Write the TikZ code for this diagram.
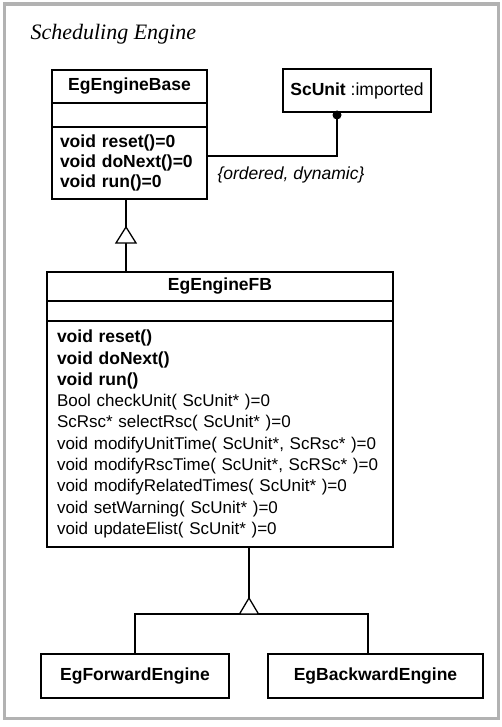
\documentclass[tikz,border=0pt]{standalone}
\usepackage{fontspec}
\setmainfont{Liberation Serif}
\setsansfont{Liberation Sans}
\usetikzlibrary{positioning}
\begin{document}
\begin{tikzpicture}[x=1pt,y=-1pt,
  lw/.style={line width=1.3pt},
  box/.style={draw,lw,rectangle,inner sep=0pt,outer sep=0pt,font=\sffamily\fontsize{17.5}{20}\selectfont},
  cname/.style={box,font=\sffamily\bfseries\fontsize{17.5}{20}\selectfont},
  ops/.style={box,align=left,inner xsep=10pt,anchor=north west},
  gentri/.style={draw,lw,fill=white},
  conn/.style={draw,lw}]
\useasboundingbox (0,0) rectangle (502,727);
\draw[gray!60,line width=3.5pt] (4.5,4) rectangle (498.5,718.5);
\node[anchor=base west,font=\rmfamily\itshape\fontsize{22}{26}\selectfont] (title) at (27,40) {Scheduling Engine};
% EgEngineBase
\node[cname,anchor=north west,minimum width=155,minimum height=33] (baseN) at (52,70) {EgEngineBase};
\node[box,anchor=north west,minimum width=155,minimum height=24] (baseA) at (52,103) {};
\node[ops,inner xsep=8pt,text width=139,minimum height=72,font=\sffamily\bfseries\fontsize{17.5}{19.6}\selectfont] (baseO) at (52,127) {void reset()=0\\void doNext()=0\\void run()=0};
% ScUnit
\node[box,anchor=north west,minimum width=148,minimum height=43] (scu) at (283,69) {\bfseries ScUnit \mdseries :imported};
\coordinate (dotc) at (337,115);
\coordinate (joint) at (207,156);
\draw[conn] (scu.south -| dotc) |- (joint);
\node[circle,fill=black,inner sep=0pt,minimum size=9pt] (dot) at (dotc) {};
\node[anchor=base west,font=\sffamily\itshape\fontsize{17.5}{20}\selectfont] (constr) at (214,180) {\{ordered, dynamic\}};
% EgEngineFB
\node[cname,anchor=north west,minimum width=346,minimum height=29] (fbN) at (47,272) {EgEngineFB};
\node[box,anchor=north west,minimum width=346,minimum height=20] (fbA) at (47,301) {};
\node[ops,text width=326,minimum height=226,font=\sffamily\fontsize{17}{21.3}\selectfont] (fbO) at (47,321) {{\fontsize{17.5}{21.3}\selectfont\bfseries void reset()}\\{\fontsize{17.5}{21.3}\selectfont\bfseries void doNext()}\\{\fontsize{17.5}{21.3}\selectfont\bfseries void run()}\\Bool checkUnit( ScUnit* )=0\\ScRsc* selectRsc( ScUnit* )=0\\void modifyUnitTime( ScUnit*, ScRsc* )=0\\void modifyRscTime( ScUnit*, ScRSc* )=0\\void modifyRelatedTimes( ScUnit* )=0\\void setWarning( ScUnit* )=0\\void updateElist( ScUnit* )=0};
% generalization 1
\coordinate (t1) at (126,227);
\draw[conn] (baseO.south -| t1) -- (t1);
\draw[conn] (fbN.north -| t1) -- ([yshift=16]t1);
\draw[gentri] (t1) -- ++(-10,16) -- ++(20,0) -- cycle;
% subclasses
\node[cname,anchor=north west,minimum width=188,minimum height=44] (fwd) at (41,654) {EgForwardEngine};
\node[cname,anchor=north west,minimum width=215,minimum height=44] (bwd) at (268,654) {EgBackwardEngine};
\coordinate (t2) at (249,598);
\coordinate (fl) at (135,614);
\coordinate (fr) at (368,614);
\draw[conn] (fbO.south -| t2) -- (t2);
\draw[conn] (fwd.north -| fl) -- (fl) -- (fr) -- (bwd.north -| fr);
\draw[gentri] (t2) -- ++(-9.5,16) -- ++(19,0) -- cycle;
\end{tikzpicture}
\end{document}
